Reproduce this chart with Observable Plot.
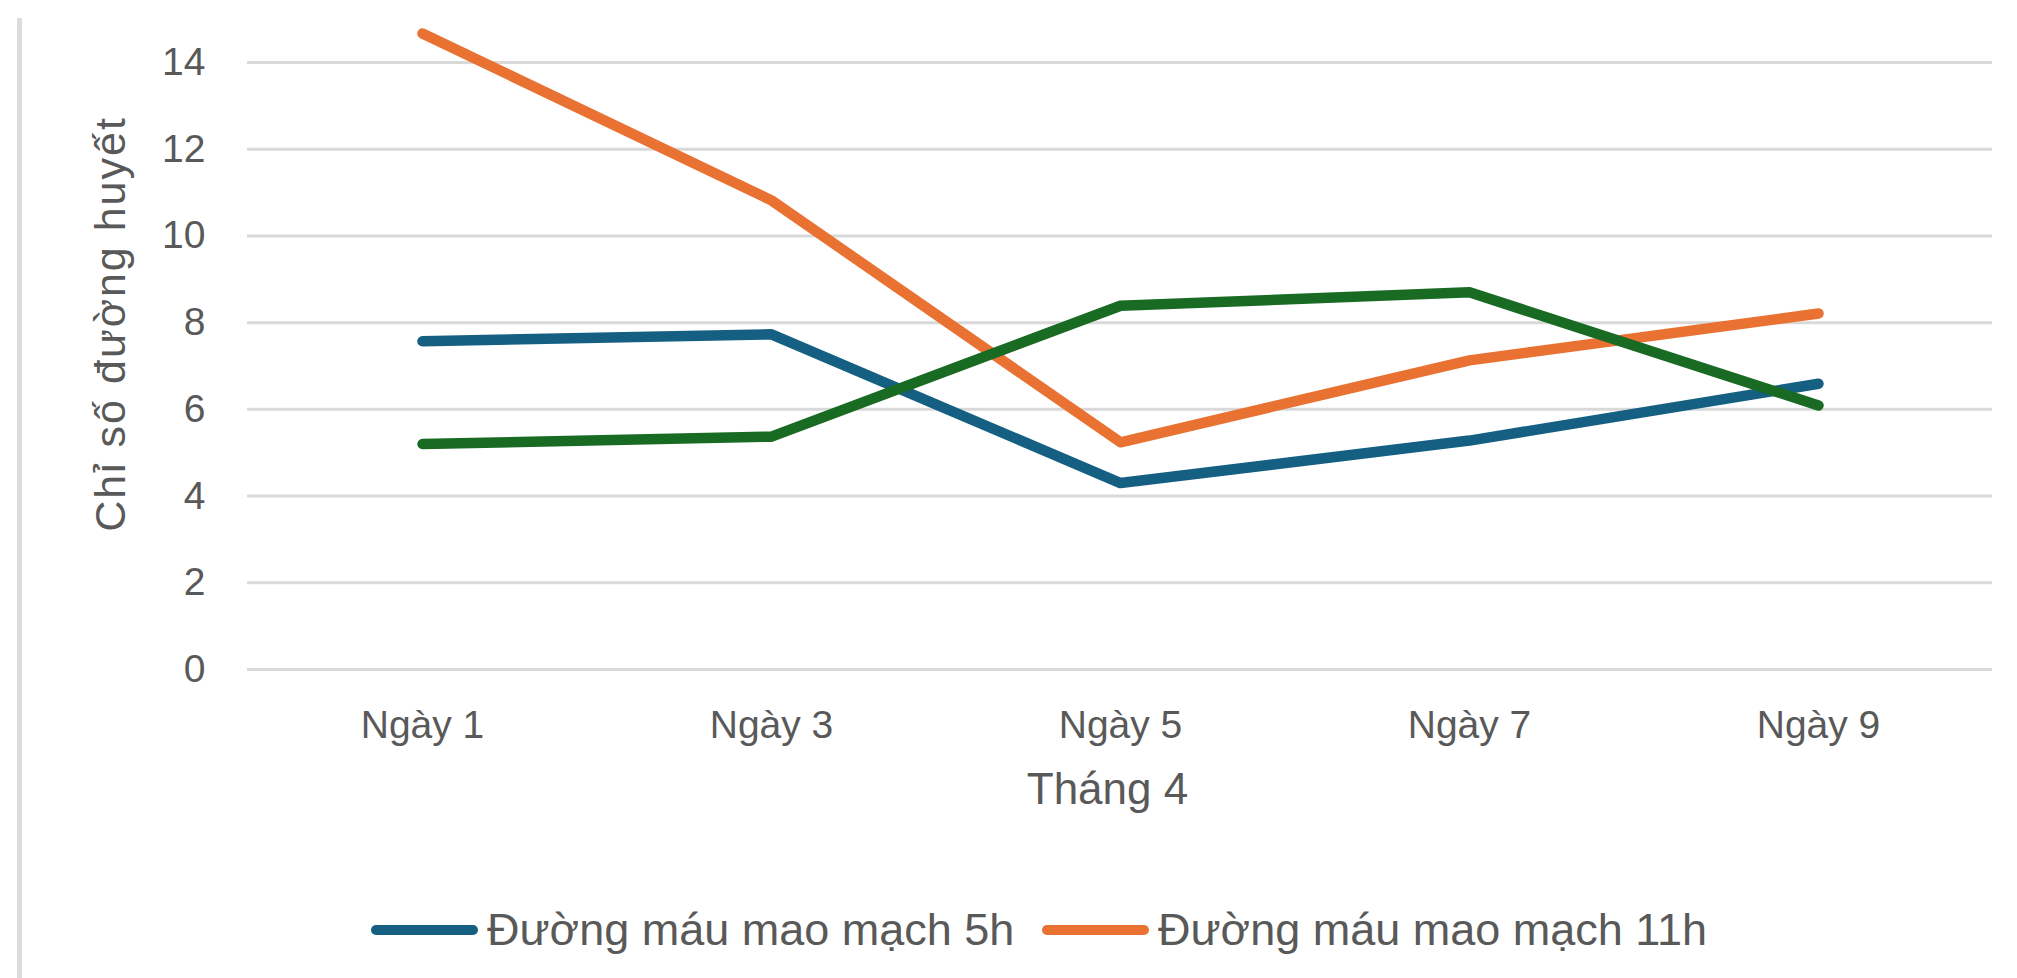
<!DOCTYPE html>
<html>
<head>
<meta charset="utf-8">
<script src="https://cdn.jsdelivr.net/npm/d3@7"></script>
<script src="https://cdn.jsdelivr.net/npm/@observablehq/plot@0.6"></script>
<style>
  html, body { margin: 0; padding: 0; background: #fff; }
  body { width: 2017px; height: 978px; position: relative; overflow: hidden;
         font-family: "Liberation Sans", Arial, sans-serif; }
  #border { position: absolute; left: 17px; top: 18px; width: 5px; height: 960px; background: #dcdcdc; }
  #chart { position: absolute; left: 0; top: 0; }
  #legend { position: absolute; left: 0; top: 880px; width: 2017px; height: 98px; }
  .item { position: absolute; top: 0; height: 100px; display: flex; align-items: center; }
  .item svg { display: block; }
  .item span { font-size: 45px; color: #595959; margin-left: 9px; white-space: nowrap; }
</style>
</head>
<body>
<div id="border"></div>
<div id="chart"></div>
<div id="legend"></div>
<script>
// ---- data ----
const days = ["Ngày 1", "Ngày 3", "Ngày 5", "Ngày 7", "Ngày 9"];
const seriesNames = ["Đường máu mao mạch 5h", "Đường máu mao mạch 11h", "Chuỗi 3"];
const values5h  = [7.57, 7.73, 4.30, 5.28, 6.59];
const values11h = [14.67, 10.82, 5.24, 7.13, 8.21];
const values3   = [5.20, 5.37, 8.39, 8.70, 6.09];
const seriesColors = ["#156082", "#E97132", "#196B24"];
const yTicks = [0, 2, 4, 6, 8, 10, 12, 14];
const yTitle = "Chỉ số đường huyết";
const xTitle = "Tháng 4";
const legendNames = ["Đường máu mao mạch 5h", "Đường máu mao mạch 11h"];

const allValues = [values5h, values11h, values3];
const rows = [];
allValues.forEach((vals, s) => {
  vals.forEach((v, i) => rows.push({ day: days[i], value: v, series: seriesNames[s] }));
});

const textColor = "#595959";

const chart = Plot.plot({
  width: 2017,
  height: 880,
  marginLeft: 247,
  marginRight: 25,
  marginTop: 62,
  marginBottom: 211,
  style: { fontFamily: "'Liberation Sans', Arial, sans-serif", fontSize: "39px", color: textColor, background: "transparent", overflow: "visible" },
  x: { type: "point", domain: days, padding: 0.5, label: null },
  y: { domain: [0, 14], label: null },
  color: { domain: seriesNames, range: seriesColors },
  marks: [
    Plot.gridY(yTicks, { stroke: "#d9d9d9", strokeOpacity: 1, strokeWidth: 3 }),
    Plot.axisY(yTicks, { tickSize: 0, tickPadding: 42, label: null, fill: textColor }),
    Plot.axisX({ tickSize: 0, tickPadding: 41, label: null, fill: textColor }),
    Plot.line(rows, { x: "day", y: "value", z: "series", stroke: "series",
      strokeWidth: 10.5, strokeLinecap: "round", strokeLinejoin: "round" }),
    Plot.text([yTitle], { text: d => d, frameAnchor: "left", rotate: -90, dx: -123, dy: -42,
      fontSize: 43, lineAnchor: "bottom", textAnchor: "middle", fill: textColor }),
    Plot.text([xTitle], { text: d => d, frameAnchor: "bottom", dx: -12.5, dy: 134,
      fontSize: 44, lineAnchor: "bottom", textAnchor: "middle", fill: textColor })
  ]
});

d3.select(chart).selectAll("text")
  .filter(function () { return this.textContent === yTitle; })
  .attr("letter-spacing", "2px");

document.getElementById("chart").appendChild(chart);

// ---- legend (below the SVG) ----
const legendLefts = [371, 1042];
const legend = document.getElementById("legend");
legendNames.forEach((name, i) => {
  const item = document.createElement("div");
  item.className = "item";
  item.style.left = legendLefts[i] + "px";
  const sw = d3.create("svg").attr("width", 107).attr("height", 14);
  sw.append("line").attr("x1", 5).attr("x2", 102).attr("y1", 7).attr("y2", 7)
    .attr("stroke", seriesColors[seriesNames.indexOf(name)]).attr("stroke-width", 10)
    .attr("stroke-linecap", "round");
  item.appendChild(sw.node());
  const label = document.createElement("span");
  label.textContent = name;
  item.appendChild(label);
  legend.appendChild(item);
});
</script>
</body>
</html>
